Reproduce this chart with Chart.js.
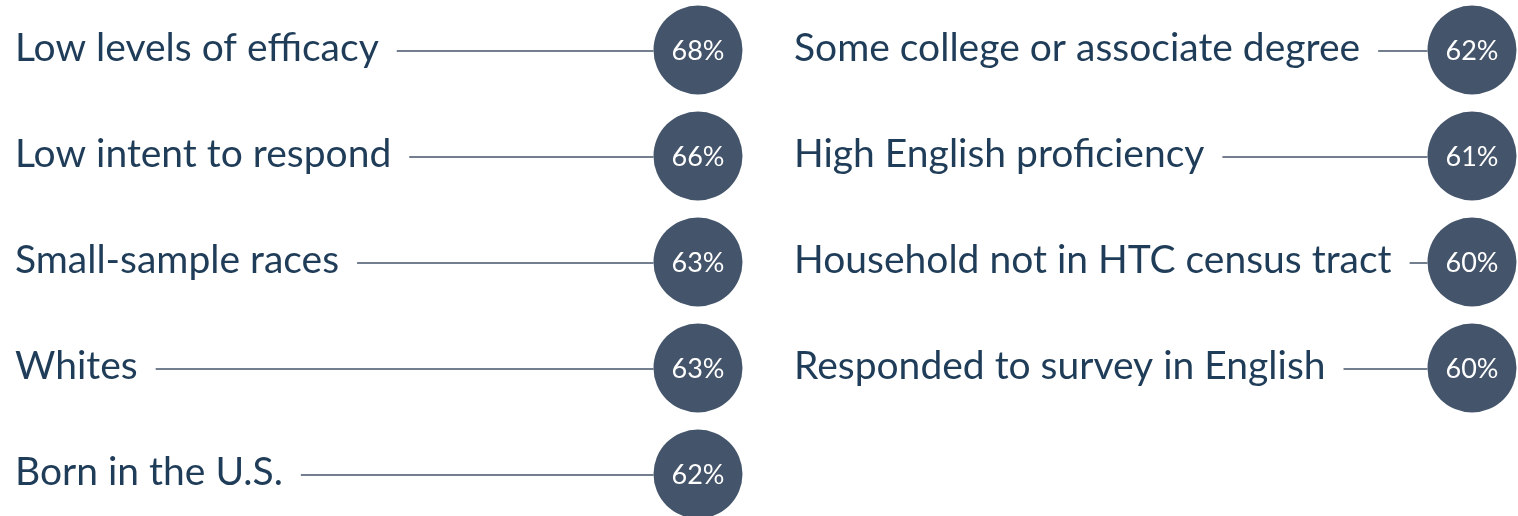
<!DOCTYPE html>
<html>
<head>
<meta charset="utf-8">
<script src="https://cdn.jsdelivr.net/npm/chart.js@4.4.1/dist/chart.umd.min.js"></script>
<style>
  html, body { margin: 0; padding: 0; background: #fff; }
  #wrap { width: 1518px; height: 516px; }
</style>
</head>
<body>
<div id="wrap"><canvas id="myChart" width="1518" height="516"></canvas></div>
<script>
// groups shown in each column, top to bottom
var leftLabels = ["Low levels of efficacy", "Low intent to respond", "Small-sample races", "Whites", "Born in the U.S."];
var leftValues = [68, 66, 63, 63, 62];
var rightLabels = ["Some college or associate degree", "High English proficiency", "Household not in HTC census tract", "Responded to survey in English"];
var rightValues = [62, 61, 60, 60];

var circleColor = "#44546a";
var textColor = "#1f3c58";
var radius = 44.5;
var labelStart = [15, 794];
var labelFont = "39px Lato";
var pctFont = "27px Lato";

function toPoints(values, col) {
    return values.map(function (v, i) { return { x: col, y: i, v: v }; });
}

var calloutPlugin = {
    id: "callouts",
    beforeDatasetsDraw: function (chart) {
        var ctx = chart.ctx;
        ctx.save();
        chart.data.datasets.forEach(function (ds, di) {
            var meta = chart.getDatasetMeta(di);
            meta.data.forEach(function (pt, i) {
                var label = ds.labels[i];
                ctx.font = labelFont;
                ctx.fillStyle = textColor;
                ctx.textAlign = "left";
                ctx.textBaseline = "alphabetic";
                var lx = labelStart[di];
                ctx.fillText(label, lx, pt.y + 11);
                var w = ctx.measureText(label).width;
                ctx.strokeStyle = circleColor;
                ctx.lineWidth = 1.5;
                ctx.beginPath();
                ctx.moveTo(lx + w + 18, pt.y + 1);
                ctx.lineTo(pt.x - radius, pt.y + 1);
                ctx.stroke();
            });
        });
        ctx.restore();
    },
    afterDatasetsDraw: function (chart) {
        var ctx = chart.ctx;
        ctx.save();
        ctx.font = pctFont;
        ctx.fillStyle = "#ffffff";
        ctx.textAlign = "center";
        ctx.textBaseline = "middle";
        chart.data.datasets.forEach(function (ds, di) {
            var meta = chart.getDatasetMeta(di);
            meta.data.forEach(function (pt, i) {
                ctx.fillText(ds.data[i].v + "%", pt.x, pt.y + 1);
            });
        });
        ctx.restore();
    }
};

var myChart = new Chart(document.getElementById("myChart").getContext("2d"), {
    type: "scatter",
    data: {
        datasets: [
            { labels: leftLabels, data: toPoints(leftValues, 0), clip: false },
            { labels: rightLabels, data: toPoints(rightValues, 1), clip: false }
        ]
    },
    options: {
        responsive: false,
        animation: false,
        layout: { padding: 0, autoPadding: false },
        elements: {
            point: { radius: radius, hoverRadius: radius, backgroundColor: circleColor, borderWidth: 0 }
        },
        scales: {
            // column 0 sits at 698px, column 1 at 1472px
            x: { type: "linear", display: false, min: -698 / 774, max: 820 / 774 },
            // rows are about 106px apart, first row at 50px
            y: { type: "linear", display: false, reverse: true, min: -50 / 106, max: 466 / 106 }
        },
        plugins: {
            legend: { display: false },
            tooltip: { enabled: false }
        }
    },
    plugins: [calloutPlugin]
});
</script>
</body>
</html>
